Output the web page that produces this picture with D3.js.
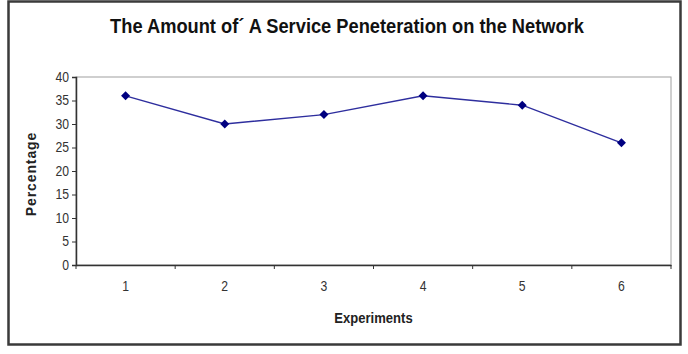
<!DOCTYPE html>
<html>
<head>
<meta charset="utf-8">
<script src="https://cdn.jsdelivr.net/npm/d3@7"></script>
<style>
  body { margin: 0; background: #fff; }
  text { font-family: "Liberation Sans", Arial, sans-serif; }
</style>
</head>
<body>
<svg id="chart"></svg>
<script>
// chart data
var experiments = ["1", "2", "3", "4", "5", "6"];
var percentage = [36, 30, 32, 36, 34, 26];
var yTicks = [0, 5, 10, 15, 20, 25, 30, 35, 40];

var width = 688,
    height = 354;

var margin = {top: 77, right: 17, bottom: 89, left: 76};

// the original uses a narrow face, squeeze the text a bit
var squeeze = "scale(0.87,1)";

var svg = d3.select("#chart")
    .attr("width", width)
    .attr("height", height);

// outer frame
svg.append("rect")
    .attr("x", 8.5).attr("y", 1.5)
    .attr("width", 672).attr("height", 343)
    .attr("fill", "#fff")
    .attr("stroke", "#3a3a3a")
    .attr("stroke-width", 2.5);

var x = d3.scaleBand()
    .domain(experiments)
    .range([margin.left, width - margin.right]);

var y = d3.scaleLinear()
    .domain([0, 40])
    .range([height - margin.bottom, margin.top]);

// plot area border
svg.append("rect")
    .attr("x", margin.left).attr("y", margin.top)
    .attr("width", width - margin.left - margin.right)
    .attr("height", height - margin.top - margin.bottom)
    .attr("fill", "none")
    .attr("stroke", "#a0a0a0")
    .attr("stroke-width", 1);

// y axis
var yAxis = svg.append("g")
    .attr("transform", "translate(" + margin.left + ",0)")
    .call(d3.axisLeft(y).tickValues(yTicks).tickSize(4).tickPadding(4));
yAxis.select(".domain").attr("stroke", "#333").attr("stroke-width", 1.5);
yAxis.selectAll(".tick line").attr("stroke", "#333");
yAxis.selectAll("text").attr("font-size", 14).attr("fill", "#333")
    .attr("transform", squeeze);

// x axis, ticks between categories
var xAxis = svg.append("g")
    .attr("transform", "translate(0," + (height - margin.bottom) + ")")
    .call(d3.axisBottom(x).tickSize(0).tickPadding(16));
xAxis.select(".domain").attr("stroke", "#333").attr("stroke-width", 1.5);
xAxis.selectAll("text").attr("font-size", 14).attr("fill", "#333")
    .attr("transform", squeeze);
xAxis.selectAll(".sep")
    .data(experiments.concat(["end"]))
  .enter().append("line")
    .attr("class", "sep")
    .attr("x1", function(d, i) { return margin.left + i * x.step(); })
    .attr("x2", function(d, i) { return margin.left + i * x.step(); })
    .attr("y1", 0).attr("y2", 4)
    .attr("stroke", "#333");

// line
var line = d3.line()
    .x(function(d, i) { return x(experiments[i]) + x.bandwidth() / 2; })
    .y(function(d) { return y(d); });

svg.append("path")
    .datum(percentage)
    .attr("d", line)
    .attr("fill", "none")
    .attr("stroke", "#2e2e9e")
    .attr("stroke-width", 1.4);

// square diamond markers
svg.selectAll(".pt")
    .data(percentage)
  .enter().append("path")
    .attr("class", "pt")
    .attr("d", "M0,-4.5L4.5,0L0,4.5L-4.5,0Z")
    .attr("transform", function(d, i) {
      return "translate(" + (x(experiments[i]) + x.bandwidth() / 2) + "," + y(d) + ")";
    })
    .attr("fill", "#000080");

// titles
svg.append("text")
    .attr("transform", "translate(347,33) " + squeeze)
    .attr("text-anchor", "middle")
    .attr("font-size", 21)
    .attr("font-weight", "bold")
    .attr("fill", "#111")
    .text("The Amount of\u00b4 A Service Peneteration on the Network");

svg.append("text")
    .attr("transform", "translate(" + ((margin.left + width - margin.right) / 2) + ",323) " + squeeze)
    .attr("text-anchor", "middle")
    .attr("font-size", 15)
    .attr("font-weight", "bold")
    .attr("fill", "#222")
    .text("Experiments");

svg.append("text")
    .attr("transform", "translate(36,174) rotate(-90)")
    .attr("text-anchor", "middle")
    .attr("font-size", 14)
    .attr("font-weight", "bold")
    .attr("letter-spacing", 0.9)
    .attr("fill", "#222")
    .text("Percentage");
</script>
</body>
</html>
